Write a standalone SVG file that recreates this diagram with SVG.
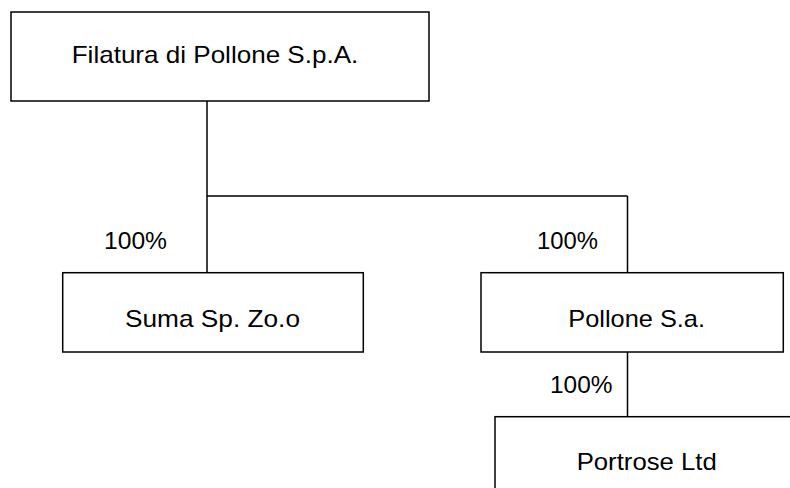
<svg xmlns="http://www.w3.org/2000/svg" width="790" height="488" viewBox="0 0 790 488">
<style>
.box{fill:#fff;stroke:#000;stroke-width:1.5}
.ln{fill:none;stroke:#000;stroke-width:1.5}
.t{font-family:"Liberation Sans",Arial,sans-serif;font-size:24px;fill:#000}
</style>
<rect width="790" height="488" fill="#fff"/>
<g id="connectors">
<path class="ln" d="M207,101 V196 M207,196 H627.5 M207,196 V273 M627.5,196 V273 M627.5,352 V417"/>
<text class="t" x="104" y="249" textLength="63" lengthAdjust="spacingAndGlyphs">100%</text>
<text class="t" x="537" y="249" textLength="61" lengthAdjust="spacingAndGlyphs">100%</text>
<text class="t" x="550" y="393" textLength="62.5" lengthAdjust="spacingAndGlyphs">100%</text>
</g>
<g id="node-filatura">
<rect class="box" x="11" y="12" width="418" height="89"/>
<text class="t" x="71.7" y="63" textLength="286.6" lengthAdjust="spacingAndGlyphs">Filatura di Pollone S.p.A.</text>
</g>
<g id="node-suma">
<rect class="box" x="62.7" y="272.7" width="300.6" height="79.3"/>
<text class="t" x="125" y="326.7" textLength="175" lengthAdjust="spacingAndGlyphs">Suma Sp. Zo.o</text>
</g>
<g id="node-pollone-sa">
<rect class="box" x="481" y="272.7" width="302.3" height="79.3"/>
<text class="t" x="568.3" y="326.7" textLength="136.7" lengthAdjust="spacingAndGlyphs">Pollone S.a.</text>
</g>
<g id="node-portrose">
<rect class="box" x="495" y="416.7" width="320" height="90"/>
<text class="t" x="576.7" y="470" textLength="140" lengthAdjust="spacingAndGlyphs">Portrose Ltd</text>
</g>
</svg>
